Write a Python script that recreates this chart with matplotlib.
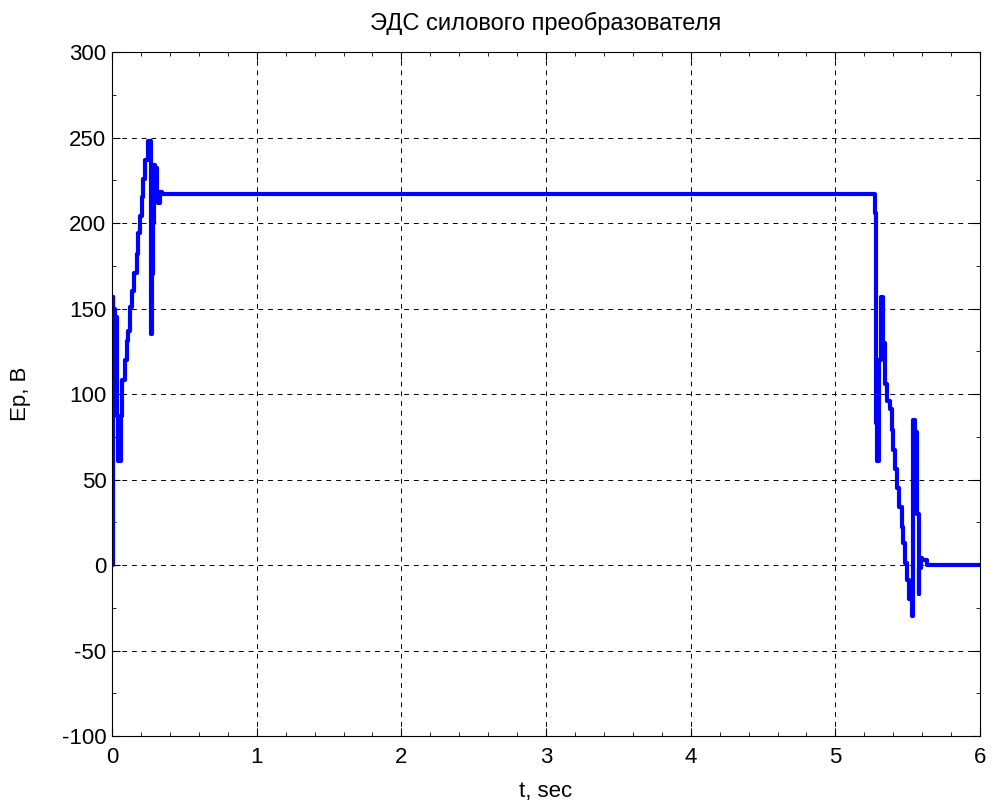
import matplotlib
matplotlib.use('Agg')
import numpy as np
import matplotlib.pyplot as plt
from matplotlib.ticker import MultipleLocator

plt.rcParams['font.family'] = ['Liberation Sans', 'DejaVu Sans']
plt.rcParams['font.size'] = 16
plt.rcParams['axes.unicode_minus'] = False

# time (sec) and converter EMF (V)
t_start = [0.0, 0.004, 0.009, 0.020, 0.032, 0.040, 0.044, 0.062, 0.071, 0.090,
           0.101, 0.113, 0.124, 0.140, 0.154, 0.170, 0.182, 0.194, 0.205,
           0.217, 0.228, 0.246, 0.263, 0.268, 0.272, 0.279, 0.284, 0.288,
           0.300, 0.310, 0.318, 0.330, 0.345]
e_start = [0, 157, 150, 145, 87, 61, 61, 87, 108, 120,
           131, 137, 151, 160, 171, 182, 194, 204, 215,
           226, 237, 248, 248, 171, 135, 170, 200, 234,
           232, 218, 212, 218, 217]

t_end = [5.255, 5.263, 5.274, 5.280, 5.286, 5.300, 5.313, 5.327, 5.343,
         5.355, 5.378, 5.389, 5.401, 5.412, 5.424, 5.442, 5.458, 5.470,
         5.481, 5.493, 5.511, 5.528, 5.534, 5.539, 5.551, 5.567, 5.575,
         5.581, 5.590, 5.597, 5.631, 5.654, 6.0]
e_end = [217, 217, 206, 83, 61, 120, 157, 130, 106,
         96, 91, 79, 67, 56, 45, 34, 22, 13,
         1, -9, -20, -30, 57, 85, 78, 30, -17,
         -2, 4, 3, 0, 0, 0]

t = t_start + t_end
e = e_start + e_end

fig = plt.figure(figsize=(9.95, 8.09), dpi=100)
ax = fig.add_axes([0.1126, 0.0902, 0.8724, 0.8455])

ax.plot(t, e, color='#0000ff', lw=3, drawstyle='steps-post')

ax.set_xlim(0, 6)
ax.set_ylim(-100, 300)
ax.xaxis.set_major_locator(MultipleLocator(1))
ax.yaxis.set_major_locator(MultipleLocator(50))
ax.xaxis.set_minor_locator(MultipleLocator(0.2))
ax.yaxis.set_minor_locator(MultipleLocator(25))
ax.tick_params(which='both', direction='in', top=True, right=True,
               labelsize=16)
ax.tick_params(axis='x', pad=8)
ax.tick_params(axis='y', pad=4)
ax.tick_params(which='major', length=6)
ax.tick_params(which='minor', length=3)
ax.grid(True, color='k', ls=(0, (5, 5)), lw=0.7)

ax.set_title('ЭДС силового преобразователя', fontsize=17, pad=16)
ax.set_xlabel('t, sec', fontsize=16, labelpad=9)
ax.set_ylabel('Ep, B', fontsize=16, labelpad=22)

plt.savefig('out.png', dpi=100)
